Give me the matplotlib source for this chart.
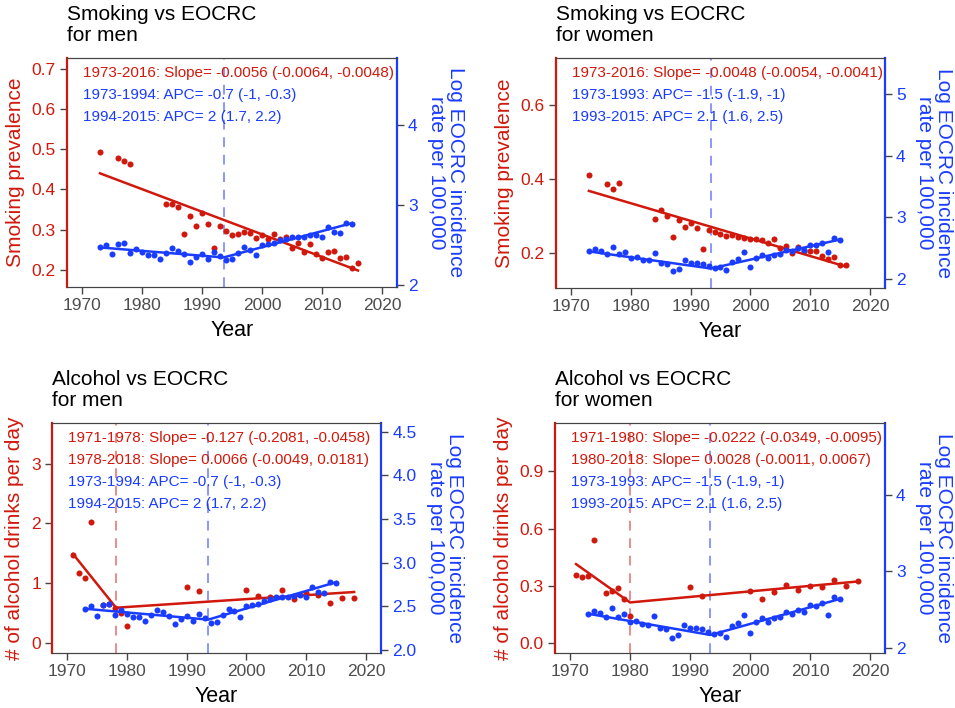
import numpy as np
import matplotlib
matplotlib.use('Agg')
import matplotlib.pyplot as plt

plt.rcParams['font.family'] = ['Liberation Sans', 'DejaVu Sans']

RED = '#D0190C'
BLUE = '#1A3CFF'
RED_DASH = '#E88C8C'
BLUE_DASH = '#8C96FF'
GREY = '#444444'

# EOCRC incidence (log rate per 100,000)
eocrc_years = list(range(1973, 2016))
eocrc_men = [2.47, 2.50, 2.39, 2.51, 2.52, 2.40, 2.45, 2.41, 2.38, 2.38,
             2.33, 2.40, 2.46, 2.43, 2.39, 2.29, 2.35, 2.39, 2.33, 2.41,
             2.36, 2.31, 2.32, 2.40, 2.47, 2.44, 2.37, 2.50, 2.51, 2.53,
             2.56, 2.58, 2.60, 2.60, 2.60, 2.62, 2.63, 2.60, 2.72, 2.66,
             2.65, 2.78, 2.76]
eocrc_women = [2.447, 2.486, 2.459, 2.41, 2.519, 2.41, 2.442, 2.334, 2.356, 2.313,
               2.302, 2.42, 2.259, 2.243, 2.124, 2.167, 2.302, 2.259, 2.259, 2.248,
               2.205, 2.178, 2.194, 2.14, 2.281, 2.324, 2.432, 2.194, 2.34, 2.394,
               2.34, 2.389, 2.41, 2.475, 2.447, 2.502, 2.475, 2.556, 2.551, 2.583,
               2.432, 2.665, 2.637]
eocrc_fit_men_x = [1973, 1993.6, 2015]
eocrc_fit_men_y = [2.47, 2.345, 2.775]
eocrc_fit_women_x = [1973, 1993.4, 2015]
eocrc_fit_women_y = [2.447, 2.17, 2.64]

# smoking prevalence
smoke_years = [1973, 1976, 1977, 1978] + list(range(1984, 2017))
smoke_men = [0.492, 0.477, 0.470, 0.464,
             0.365, 0.365, 0.356, 0.289, 0.335, 0.310, 0.342, 0.314, 0.255, 0.310,
             0.297, 0.287, 0.289, 0.294, 0.293, 0.280, 0.286, 0.278, 0.289, 0.278,
             0.283, 0.256, 0.268, 0.245, 0.265, 0.241, 0.230, 0.246, 0.248, 0.229,
             0.233, 0.204, 0.217]
smoke_women = [0.411, 0.386, 0.373, 0.388,
               0.291, 0.316, 0.300, 0.242, 0.289, 0.270, 0.281, 0.266, 0.211, 0.262,
               0.257, 0.250, 0.245, 0.248, 0.243, 0.239, 0.236, 0.237, 0.234, 0.225,
               0.238, 0.212, 0.218, 0.198, 0.215, 0.203, 0.203, 0.205, 0.191, 0.182,
               0.189, 0.167, 0.167]
smoke_fit_x = [1973, 2016]
smoke_fit_men_y = [0.44, 0.199]
smoke_fit_women_y = [0.367, 0.162]

# alcohol drinks per day
alc_years = [1971, 1972, 1973, 1974, 1976, 1977, 1978, 1979, 1980, 1990, 1992,
             2000, 2002, 2004, 2006, 2008, 2010, 2012, 2014, 2016, 2018]
alc_men = [1.47, 1.17, 1.09, 2.02, 0.64, 0.65, 0.58, 0.50, 0.29, 0.93, 0.87,
           0.89, 0.78, 0.77, 0.89, 0.73, 0.83, 0.80, 0.67, 0.76, 0.75]
alc_women = [0.355, 0.346, 0.35, 0.542, 0.26, 0.274, 0.29, 0.229, 0.142, 0.294, 0.249,
             0.271, 0.232, 0.268, 0.302, 0.278, 0.30, 0.294, 0.332, 0.30, 0.327]
alc_fit_men_x = [1971, 1978.2, 2018]
alc_fit_men_y = [1.49, 0.59, 0.853]
alc_fit_women_x = [1971, 1980, 2018]
alc_fit_women_y = [0.414, 0.213, 0.323]

xticks = [1970, 1980, 1990, 2000, 2010, 2020]


def draw_panel(rect, title, ylabel, red_x, red_y, fit_x, fit_y, blue_y, bfit_x, bfit_y,
               red_breaks, blue_break, notes, ylim, yticks, ytick_labels,
               ylim2, yticks2, ytick_labels2):
    ax = fig.add_axes(rect)
    ax2 = ax.twinx()

    for b in red_breaks:
        ax.axvline(b, color=RED_DASH, ls=(0, (5, 4)), lw=1.4)
    ax.axvline(blue_break, color=BLUE_DASH, ls=(0, (5, 4)), lw=1.4)

    ax.scatter(red_x, red_y, s=19, color=RED, zorder=3, linewidths=0)
    ax.plot(fit_x, fit_y, color=RED, lw=1.8, zorder=3)
    ax2.scatter(eocrc_years, blue_y, s=19, color=BLUE, zorder=3, linewidths=0)
    ax2.plot(bfit_x, bfit_y, color=BLUE, lw=1.8, zorder=3)

    ax.set_xlim(1967.5, 2022.5)
    ax.set_xticks(xticks)
    ax.set_ylim(*ylim)
    ax.set_yticks(yticks)
    ax.set_yticklabels(ytick_labels)
    ax2.set_ylim(*ylim2)
    ax2.set_yticks(yticks2)
    ax2.set_yticklabels(ytick_labels2)

    ax.tick_params(axis='x', labelsize=12.5, colors=GREY, labelcolor='#4D4D4D',
                   length=5, width=1, pad=3)
    ax.tick_params(axis='y', labelsize=12.5, color=GREY, labelcolor=RED,
                   length=5, width=1, pad=3)
    ax2.tick_params(axis='y', labelsize=12.5, color=GREY, labelcolor=BLUE,
                    length=5, width=1, pad=3)

    ax.spines['left'].set_color(RED)
    ax.spines['left'].set_linewidth(1.6)
    ax.spines['right'].set_visible(False)
    ax2.spines['left'].set_visible(False)
    ax2.spines['right'].set_color(BLUE)
    ax2.spines['right'].set_linewidth(1.6)
    for a in (ax, ax2):
        a.spines['top'].set_color(GREY)
        a.spines['bottom'].set_color(GREY)

    ax.set_xlabel('Year', fontsize=15.5, labelpad=5)
    ax.set_ylabel(ylabel, fontsize=15, color=RED, labelpad=5)
    ax2.set_ylabel('Log EOCRC incidence\nrate per 100,000', fontsize=15,
                   color=BLUE, rotation=270, labelpad=34, linespacing=1.0)
    ax.set_title(title, loc='left', fontsize=15, pad=12, linespacing=1.15)

    for i, (txt, col) in enumerate(notes):
        ax.annotate(txt, xy=(0, 1), xycoords='axes fraction',
                    xytext=(11.5, -11 - i * 15.8), textcoords='offset points',
                    va='center', ha='left', fontsize=11, color=col)
    return ax, ax2


fig = plt.figure(figsize=(9.55, 7.08), dpi=100)

draw_panel([0.0702, 0.5946, 0.3455, 0.3234], 'Smoking vs EOCRC\nfor men',
           'Smoking prevalence', smoke_years, smoke_men, smoke_fit_x, smoke_fit_men_y,
           eocrc_men, eocrc_fit_men_x, eocrc_fit_men_y, [], 1993.6,
           [('1973-2016: Slope= -0.0056 (-0.0064, -0.0048)', RED),
            ('1973-1994: APC= -0.7 (-1, -0.3)', BLUE),
            ('1994-2015: APC= 2 (1.7, 2.2)', BLUE)],
           (0.158, 0.726), [0.2, 0.3, 0.4, 0.5, 0.6, 0.7],
           ['0.2', '0.3', '0.4', '0.5', '0.6', '0.7'],
           (1.975, 4.84), [2, 3, 4], ['2', '3', '4'])

draw_panel([0.5822, 0.5932, 0.3445, 0.3249], 'Smoking vs EOCRC\nfor women',
           'Smoking prevalence', smoke_years, smoke_women, smoke_fit_x, smoke_fit_women_y,
           eocrc_women, eocrc_fit_women_x, eocrc_fit_women_y, [], 1993.4,
           [('1973-2016: Slope= -0.0048 (-0.0054, -0.0041)', RED),
            ('1973-1993: APC= -1.5 (-1.9, -1)', BLUE),
            ('1993-2015: APC= 2.1 (1.6, 2.5)', BLUE)],
           (0.104, 0.727), [0.2, 0.4, 0.6], ['0.2', '0.4', '0.6'],
           (1.854, 5.58), [2, 3, 4, 5], ['2', '3', '4', '5'])

draw_panel([0.0545, 0.0777, 0.3445, 0.3249], 'Alcohol vs EOCRC\nfor men',
           '# of alcohol drinks per day', alc_years, alc_men, alc_fit_men_x, alc_fit_men_y,
           eocrc_men, eocrc_fit_men_x, eocrc_fit_men_y, [1978.2], 1993.6,
           [('1971-1978: Slope= -0.127 (-0.2081, -0.0458)', RED),
            ('1978-2018: Slope= 0.0066 (-0.0049, 0.0181)', RED),
            ('1973-1994: APC= -0.7 (-1, -0.3)', BLUE),
            ('1994-2015: APC= 2 (1.7, 2.2)', BLUE)],
           (-0.167, 3.68), [0, 1, 2, 3], ['0', '1', '2', '3'],
           (1.962, 4.603), [2.0, 2.5, 3.0, 3.5, 4.0, 4.5],
           ['2.0', '2.5', '3.0', '3.5', '4.0', '4.5'])

draw_panel([0.5812, 0.0777, 0.3455, 0.3249], 'Alcohol vs EOCRC\nfor women',
           '# of alcohol drinks per day', alc_years, alc_women, alc_fit_women_x, alc_fit_women_y,
           eocrc_women, eocrc_fit_women_x, eocrc_fit_women_y, [1980], 1993.4,
           [('1971-1980: Slope= -0.0222 (-0.0349, -0.0095)', RED),
            ('1980-2018: Slope= 0.0028 (-0.0011, 0.0067)', RED),
            ('1973-1993: APC= -1.5 (-1.9, -1)', BLUE),
            ('1993-2015: APC= 2.1 (1.6, 2.5)', BLUE)],
           (-0.052, 1.154), [0.0, 0.3, 0.6, 0.9], ['0.0', '0.3', '0.6', '0.9'],
           (1.935, 4.935), [2, 3, 4], ['2', '3', '4'])

fig.savefig('out.png', dpi=100)
